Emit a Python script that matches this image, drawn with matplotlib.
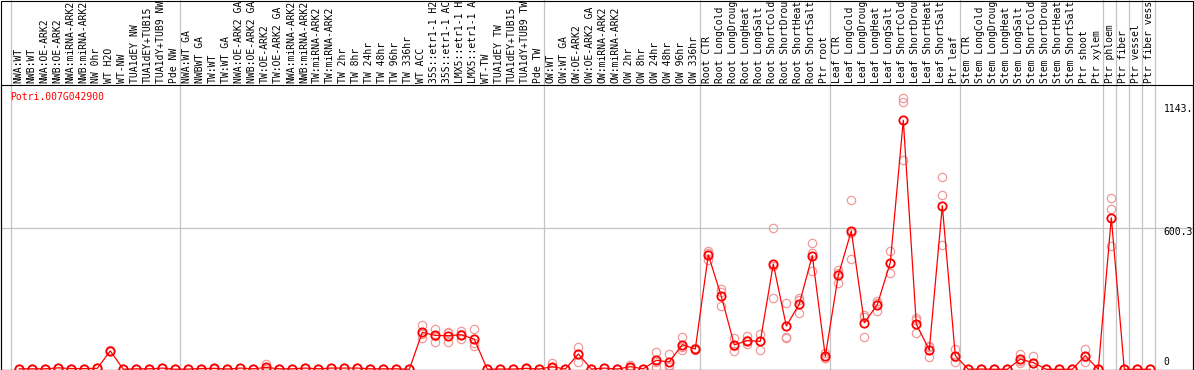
import matplotlib
matplotlib.use("Agg")
import matplotlib.pyplot as plt
from matplotlib.patches import Rectangle
import matplotlib.transforms as mtransforms
import numpy as np

gen = "Potri.007G042900"

# nombres de las muestras (tal como se ven, recortados arriba)
grupo1 = ["NWA:WT", "NWB:WT", "NWA:OE-ARK2", "NWB:OE-ARK2", "NWA:miRNA-ARK2",
          "NWB:miRNA-ARK2", "NW 0hr", "WT H2O", "WT-NW", "TUA1dEY NW",
          "TUA1dEY+TUB15", "TUA1dY+TUB9 NW", "Pde NW"]
grupo2 = ["NWA:WT GA", "NWBWT GA", "TW:WT", "TW:WT GA", "NWA:OE-ARK2 GA",
          "NWB:OE-ARK2 GA", "TW:OE-ARK2", "TW:OE-ARK2 GA", "NWA:miRNA-ARK2",
          "NWB:miRNA-ARK2", "TW:miRNA-ARK2", "TW:miRNA-ARK2", "TW 2hr", "TW 8hr",
          "TW 24hr", "TW 48hr", "TW 96hr", "TW 336hr", "WT ACC",
          "35S::etr1-1 H2", "35S::etr1-1 AC", "LMX5::etr1-1 H", "LMX5::etr1-1 A",
          "WT-TW", "TUA1dEY TW", "TUA1dEY+TUB15", "TUA1dY+TUB9 TW", "Pde TW"]
grupo3 = ["OW:WT", "OW:WT GA", "OW:OE-ARK2", "OW:OE-ARK2 GA", "OW:miRNA-ARK2",
          "OW:miRNA-ARK2", "OW 2hr", "OW 8hr", "OW 24hr", "OW 48hr", "OW 96hr",
          "OW 336hr"]
grupo4 = ["Root CTR", "Root LongCold", "Root LongDroug", "Root LongHeat",
          "Root LongSalt", "Root ShortCold", "Root ShortDrou", "Root ShortHeat",
          "Root ShortSalt", "Ptr root"]
grupo5 = ["Leaf CTR", "Leaf LongCold", "Leaf LongDroug", "Leaf LongHeat",
          "Leaf LongSalt", "Leaf ShortCold", "Leaf ShortDrou", "Leaf ShortHeat",
          "Leaf ShortSalt", "Ptr leaf"]
grupo6 = ["Stem CTR", "Stem LongCold", "Stem LongDroug", "Stem LongHeat",
          "Stem LongSalt", "Stem ShortCold", "Stem ShortDrou", "Stem ShortHeat",
          "Stem ShortSalt", "Ptr shoot", "Ptr xylem"]
grupo7 = ["Ptr phloem"]
grupo8 = ["Ptr fiber"]
grupo9 = ["Ptr vessel"]
grupo10 = ["Ptr fiber vess"]

grupos = [grupo1, grupo2, grupo3, grupo4, grupo5, grupo6, grupo7, grupo8, grupo9, grupo10]

# promedio de expresion por muestra
medias = [2, 2, 2, 6, 3, 3, 4, 78, 0, 2, 2, 5, 0,
          1, 3, 4, 1, 5, 2, 8, 2, 2, 5, 2, 5, 5, 5, 2, 2, 2, 0,
          157, 144, 143, 147, 128, 0, 1, 1, 4, 1,
          11, 1, 65, 1, 5, 1, 11, 2, 38, 31, 105, 86,
          487, 311, 104, 122, 119, 448, 184, 278, 484, 55,
          400, 589, 198, 275, 454, 1060, 192, 82, 696, 58,
          0, 1, 0, 0, 43, 28, 0, 0, 0, 58, 0,
          645, 0, 0, 0]

# replicas
rep_a = [2, 2, 2, 7, 3, 3, 4, 80, 0, 2, 2, 6, 0,
         1, 3, 5, 1, 6, 2, 22, 2, 2, 6, 2, 6, 6, 6, 2, 2, 2, 0,
         189, 172, 157, 162, 170, 0, 1, 1, 5, 1,
         25, 1, 96, 1, 6, 1, 18, 2, 72, 65, 136, 90,
         503, 340, 135, 141, 152, 600, 281, 302, 536, 68,
         423, 721, 231, 292, 502, 1156, 217, 96, 817, 88,
         0, 1, 0, 0, 65, 57, 0, 0, 0, 88, 0,
         728, 0, 0, 0]
rep_b = [2, 2, 2, 6, 3, 3, 4, 78, 0, 2, 2, 5, 0,
         1, 3, 4, 1, 5, 2, 1, 2, 2, 5, 2, 5, 5, 5, 2, 2, 2, 0,
         150, 143, 155, 150, 111, 0, 1, 1, 4, 1,
         4, 1, 67, 1, 5, 1, 10, 2, 31, 17, 96, 86,
         493, 330, 99, 124, 120, 441, 135, 295, 494, 50,
         409, 578, 224, 283, 451, 1137, 210, 99, 741, 54,
         0, 1, 0, 0, 37, 26, 0, 0, 0, 54, 0,
         681, 0, 0, 0]
rep_c = [2, 2, 2, 5, 3, 3, 4, 76, 0, 2, 2, 4, 0,
         1, 3, 3, 1, 4, 2, 1, 2, 2, 4, 2, 4, 4, 4, 2, 2, 2, 0,
         132, 118, 118, 128, 99, 0, 1, 1, 3, 1,
         4, 1, 32, 1, 4, 1, 4, 2, 11, 11, 83, 82,
         465, 269, 79, 106, 84, 302, 136, 238, 420, 47,
         369, 468, 137, 248, 409, 891, 153, 51, 531, 32,
         0, 1, 0, 0, 28, 0, 0, 0, 0, 32, 0,
         526, 0, 0, 0]

# etiquetas del eje derecho
marcas_valor = [1143, 600.3, 0]
marcas_texto = ["1143.", "600.3", "0"]
marcas_dy = [-8, -4, 7]

etiquetas = [e for g in grupos for e in g]
x = np.arange(len(etiquetas))

W, H = 1194, 370
fig = plt.figure(figsize=(W / 100, H / 100), dpi=100)

# area del grafico en pixeles
izq, der, arriba, abajo = 0.5, 1192.5, 85, 369.5
ax = fig.add_axes([izq / W, (H - abajo) / H, (der - izq) / W, (abajo - arriba) / H])

paso = 13.0
x0 = 19.3  # pixel de la primera muestra
ax.set_xlim((izq - x0) / paso, (der - x0) / paso)
ax.set_ylim(-1, 1210)
ax.set_xticks([])
ax.set_yticks([])
for s in ax.spines.values():
    s.set_linewidth(0.8)
    s.set_color("black")

gris = "#c4c4c4"
ax.axhline(600.3, color=gris, lw=0.9, zorder=1)

# separadores de grupos, llegan hasta arriba de la figura
alto_ext = abajo / (abajo - arriba)
lim = 0
bordes = [lim]
for g in grupos:
    lim += len(g)
    bordes.append(lim)
for b in bordes:
    ax.axvline(b - 0.64, ymin=0, ymax=alto_ext, color=gris, lw=0.9, clip_on=False, zorder=1)

rosa = "#f09a9a"
for rep in [rep_a, rep_b, rep_c]:
    ax.plot(x, rep, linestyle="none", marker="o", markersize=6,
            markerfacecolor="none", markeredgecolor=rosa, markeredgewidth=0.9,
            clip_on=False, zorder=2)

ax.plot(x, medias, color="red", lw=0.9, zorder=3, clip_on=False)
ax.plot(x, medias, linestyle="none", marker="o", markersize=6,
        markerfacecolor="none", markeredgecolor="red", markeredgewidth=1.3,
        clip_on=False, zorder=4)

fuente = "DejaVu Sans Mono"
trans = mtransforms.blended_transform_factory(ax.transData, ax.transAxes)
for i, e in enumerate(etiquetas):
    ax.text(i - 0.1, 1 + 2 / (abajo - arriba), e, rotation=90, ha="center", va="bottom",
            fontsize=7, family=fuente, transform=trans, clip_on=False)

ax.text((10 - izq) / (der - izq), (abajo - 96.7) / (abajo - arriba), gen, color="red",
        fontsize=7, family=fuente, ha="left", va="center", transform=ax.transAxes)

trans2 = mtransforms.blended_transform_factory(ax.transAxes, ax.transData)
for v, t, dy in zip(marcas_valor, marcas_texto, marcas_dy):
    ax.annotate(t, xy=((1163.5 - izq) / (der - izq), v), xycoords=trans2,
                xytext=(0, dy), textcoords="offset pixels",
                ha="left", va="center", fontsize=7, family=fuente)

# marco de toda la figura
fig.add_artist(Rectangle((izq / W, (H - abajo) / H), (der - izq) / W, (abajo - 0.5) / H,
                         transform=fig.transFigure, fill=False, edgecolor="black", lw=0.8))

plt.savefig("out.png", dpi=100)
